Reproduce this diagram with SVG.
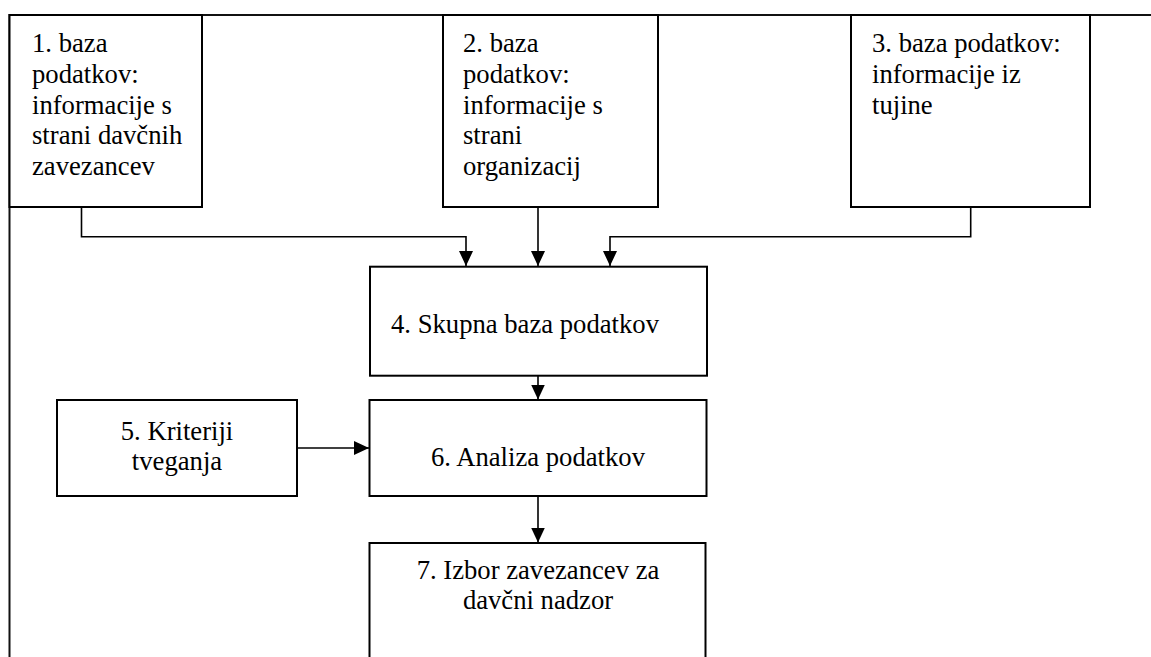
<svg xmlns="http://www.w3.org/2000/svg" width="1151" height="657" viewBox="0 0 1151 657">
<style>
.box{fill:#fff;stroke:#000;stroke-width:2}
.frame{fill:none;stroke:#111;stroke-width:2}
.con{fill:none;stroke:#000;stroke-width:1.6}
.t{font-family:"Liberation Serif","Times New Roman",serif;font-size:26.67px;fill:#000}
.c{text-anchor:middle}
</style>
<defs>
<marker id="ah" markerUnits="userSpaceOnUse" markerWidth="16" markerHeight="14" refX="15" refY="7" orient="auto">
<path d="M0,0 L15,7 L0,14 z" fill="#000"/>
</marker>
</defs>
<rect width="1151" height="657" fill="#fff"/>
<g id="frame">
<path class="frame" d="M9.5,657 V15 H1151"/>
</g>
<g id="connectors">
<path class="con" d="M81.5,207 V236.7 H466 V266" marker-end="url(#ah)"/>
<path class="con" d="M538,207 V266" marker-end="url(#ah)"/>
<path class="con" d="M970.7,207 V236.7 H610 V266" marker-end="url(#ah)"/>
<path class="con" d="M538,376 V399.5" marker-end="url(#ah)"/>
<path class="con" d="M297,448 H369" marker-end="url(#ah)"/>
<path class="con" d="M538,496 V542.5" marker-end="url(#ah)"/>
</g>
<g id="n1">
<rect class="box" x="9.5" y="15" width="192.5" height="192"/>
<text class="t"><tspan x="32" y="52">1. baza</tspan><tspan x="32" y="82.8">podatkov:</tspan><tspan x="32" y="113.6">informacije s</tspan><tspan x="32" y="144.4">strani davčnih</tspan><tspan x="32" y="175.2">zavezancev</tspan></text>
</g>
<g id="n2">
<rect class="box" x="443" y="15" width="215" height="192"/>
<text class="t"><tspan x="463" y="52">2. baza</tspan><tspan x="463" y="82.8">podatkov:</tspan><tspan x="463" y="113.6">informacije s</tspan><tspan x="463" y="144.4">strani</tspan><tspan x="463" y="175.2">organizacij</tspan></text>
</g>
<g id="n3">
<rect class="box" x="851" y="15" width="239" height="192"/>
<text class="t"><tspan x="872" y="52">3. baza podatkov:</tspan><tspan x="872" y="82.8">informacije iz</tspan><tspan x="872" y="113.6">tujine</tspan></text>
</g>
<g id="n4">
<rect class="box" x="370" y="266.7" width="337" height="109"/>
<text class="t" x="391" y="333">4. Skupna baza podatkov</text>
</g>
<g id="n5">
<rect class="box" x="57" y="400" width="240" height="96"/>
<text class="t c"><tspan x="177" y="440">5. Kriteriji</tspan><tspan x="177" y="470">tveganja</tspan></text>
</g>
<g id="n6">
<rect class="box" x="369.5" y="400" width="337" height="96"/>
<text class="t c" x="538" y="466">6. Analiza podatkov</text>
</g>
<g id="n7">
<rect class="box" x="369.5" y="543" width="336" height="130"/>
<text class="t c"><tspan x="538" y="579">7. Izbor zavezancev za</tspan><tspan x="538" y="609">davčni nadzor</tspan></text>
</g>
</svg>
